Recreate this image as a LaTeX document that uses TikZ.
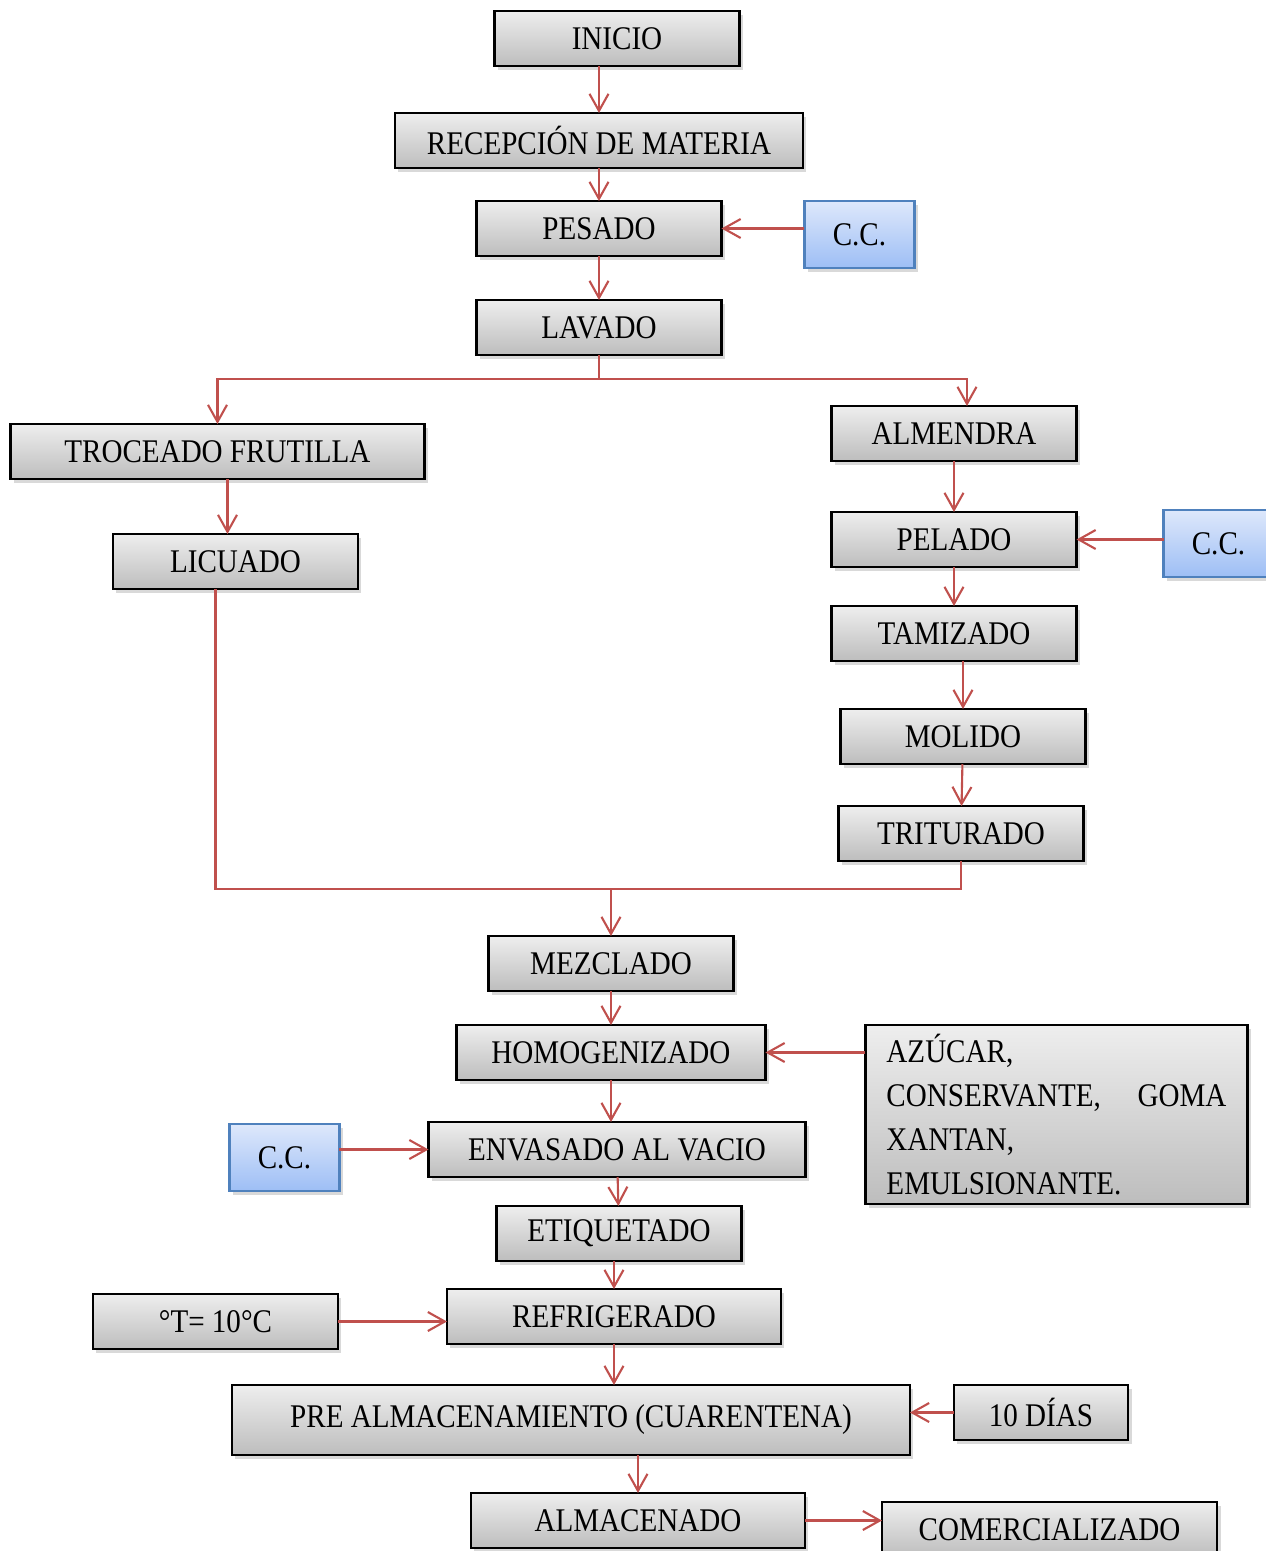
\documentclass[tikz,border=0pt]{standalone}
\usepackage{fontspec}
\setmainfont{Liberation Serif}[FakeStretch=0.88]
\usepackage{xcolor}
\usepackage{tikz}
\usetikzlibrary{positioning}
\usetikzlibrary{shapes,arrows.meta,shadows}
\definecolor{flecha}{HTML}{C0504D}
\definecolor{ccborde}{HTML}{4F81BD}
\definecolor{ccarriba}{HTML}{DEE8FB}
\definecolor{ccabajo}{HTML}{9DBEF5}
\definecolor{grisarriba}{HTML}{EEEEEE}
\definecolor{grisabajo}{HTML}{BDBDBD}
\tikzstyle{block} = [rectangle, draw, line width=1.3pt, outer sep=0pt, top color=grisarriba, bottom color=grisabajo,
minimum width=4.9cm, minimum height=1.1cm, drop shadow={opacity=0.3, shadow xshift=0.07cm, shadow yshift=-0.07cm}]
\tikzstyle{control} = [block, draw=ccborde, top color=ccarriba, bottom color=ccabajo, minimum width=2.2cm, minimum height=1.34cm]
\tikzstyle{line} = [draw=flecha, line width=1.2pt, -{Straight Barb[length=0.34cm, width=0.38cm]}]
\tikzstyle{union} = [draw=flecha, line width=1.2pt]

\begin{document}
\begin{tikzpicture}[node distance = 1cm, inner sep=1pt, font=\fontsize{18.8}{25}\selectfont]
\useasboundingbox (-12.34,0.77) rectangle (12.96,-30.25);
    % nodes
\node [block] (inicio) {INICIO};
\node [block, minimum width=8.16cm, below=0.94cm of inicio, xshift=-0.36cm] (recep) {RECEPCIÓN DE MATERIA};
\node [block, below=0.66cm of recep] (pesado) {PESADO};
\node [control, right=1.66cm of pesado, yshift=-0.12cm] (cc1) {C.C.};
\node [block, below=0.88cm of pesado] (lavado) {LAVADO};
\node [block, minimum width=8.28cm, below left=1.38cm and 1.04cm of lavado] (troceado) {TROCEADO FRUTILLA};
\node [block, below right=1.02cm and 2.2cm of lavado] (almendra) {ALMENDRA};
\node [block, below=1.1cm of troceado, xshift=0.36cm] (licuado) {LICUADO};
\node [block, below=1.02cm of almendra] (pelado) {PELADO};
\node [control, right=1.74cm of pelado, yshift=-0.08cm] (cc2) {C.C.};
\node [block, below=0.78cm of pelado] (tamizado) {TAMIZADO};
\node [block, below=0.96cm of tamizado, xshift=0.18cm] (molido) {MOLIDO};
\node [block, below=0.84cm of molido, xshift=-0.04cm] (triturado) {TRITURADO};
\node [block, below left=1.5cm and 2.1cm of triturado] (mezclado) {MEZCLADO};
\node [block, minimum width=6.18cm, below=0.68cm of mezclado] (homog) {HOMOGENIZADO};
\node [block, minimum width=7.64cm, minimum height=3.58cm, text width=6.8cm, align=left,
  right=2cm of homog.north east, anchor=north west] (aditivos)
  {AZÚCAR,\\ CONSERVANTE,\hskip 0pt plus 1filll GOMA\\ XANTAN,\\ EMULSIONANTE.};
\node [block, minimum width=7.54cm, below=0.84cm of homog, xshift=0.12cm] (envasado) {ENVASADO AL VACIO};
\node [control, left=1.78cm of envasado, yshift=-0.16cm] (cc3) {C.C.};
\node [block, below=0.58cm of envasado, xshift=0.04cm] (etiquetado) {ETIQUETADO};
\node [block, minimum width=6.68cm, below=0.56cm of etiquetado, xshift=-0.1cm] (refrigerado) {REFRIGERADO};
\node [block, left=2.18cm of refrigerado, yshift=-0.1cm] (temp) {°T= 10°C};
\node [block, minimum width=13.56cm, minimum height=1.4cm, below=0.82cm of refrigerado, xshift=-0.86cm] (prealm) {PRE ALMACENAMIENTO (CUARENTENA)};
\node [block, minimum width=3.48cm, right=0.88cm of prealm.north east, anchor=north west] (dias) {10 DÍAS};
\node [block, minimum width=6.68cm, below=0.76cm of prealm, xshift=1.34cm] (almacenado) {ALMACENADO};
\node [block, minimum width=6.7cm, right=1.54cm of almacenado, yshift=-0.18cm] (comercializado) {COMERCIALIZADO};

\coordinate [below=0.48cm of lavado.south] (division);
\coordinate [below=0.56cm of triturado.south] (juntura);

%edges
\path [line] (inicio.south -| recep) -- (recep);
\path [line] (recep) -- (pesado);
\path [line] (cc1.west |- pesado) -- (pesado);
\path [line] (pesado) -- (lavado);
\draw [union] (lavado) -- (division);
\draw [line] (division) -| (troceado);
\draw [line] (division) -| ([xshift=0.26cm]almendra.north);
\path [line] ([xshift=-0.16cm]licuado.north |- troceado.south) -- ([xshift=-0.16cm]licuado.north);
\path [line] (almendra) -- (pelado);
\path [line] (cc2.west |- pelado) -- (pelado);
\path [line] (pelado) -- (tamizado);
\path [line] (tamizado.south -| molido) -- (molido);
\path [line] (molido) -- (triturado);
\draw [union] ([xshift=-0.4cm]licuado.south) |- (juntura) -- (triturado);
\path [line] (juntura -| mezclado) -- (mezclado);
\path [line] (mezclado) -- (homog);
\path [line] (aditivos.west |- homog) -- (homog);
\path [line] (homog) -- (homog |- envasado.north);
\path [line] (cc3.east |- envasado) -- (envasado);
\path [line] (envasado) -- (etiquetado);
\path [line] (etiquetado.south -| refrigerado) -- (refrigerado);
\path [line] (temp.east) -- (temp.east -| refrigerado.west);
\path [line] (refrigerado) -- (refrigerado |- prealm.north);
\path [line] (dias) -- (dias -| prealm.east);
\path [line] (prealm.south -| almacenado) -- (almacenado);
\path [line] (almacenado) -- (almacenado -| comercializado.west);

\end{tikzpicture}
\end{document}
